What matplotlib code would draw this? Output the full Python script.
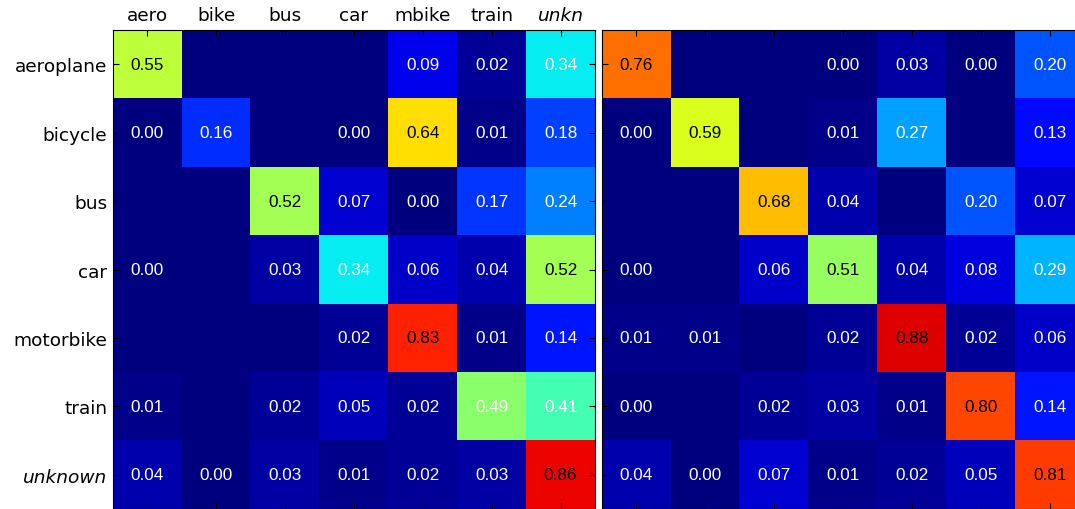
import numpy as np
import matplotlib.pyplot as plt

# Column / row class names
col_labels = ['aero', 'bike', 'bus', 'car', 'mbike', 'train', 'unkn']
row_labels = ['aeroplane', 'bicycle', 'bus', 'car', 'motorbike', 'train', 'unknown']

# Confusion values, None = empty cell (no entry)
left_rows = [
    [0.55, None, None, None, 0.09, 0.02, 0.34],
    [0.00, 0.16, None, 0.00, 0.64, 0.01, 0.18],
    [None, None, 0.52, 0.07, 0.00, 0.17, 0.24],
    [0.00, None, 0.03, 0.34, 0.06, 0.04, 0.52],
    [None, None, None, 0.02, 0.83, 0.01, 0.14],
    [0.01, None, 0.02, 0.05, 0.02, 0.49, 0.41],
    [0.04, 0.00, 0.03, 0.01, 0.02, 0.03, 0.86],
]
right_rows = [
    [0.76, None, None, 0.00, 0.03, 0.00, 0.20],
    [0.00, 0.59, None, 0.01, 0.27, None, 0.13],
    [None, None, 0.68, 0.04, None, 0.20, 0.07],
    [0.00, None, 0.06, 0.51, 0.04, 0.08, 0.29],
    [0.01, 0.01, None, 0.02, 0.88, 0.02, 0.06],
    [0.00, None, 0.02, 0.03, 0.01, 0.80, 0.14],
    [0.04, 0.00, 0.07, 0.01, 0.02, 0.05, 0.81],
]

plt.rcParams['xtick.direction'] = 'in'
plt.rcParams['ytick.direction'] = 'in'

fig = plt.figure(figsize=(10.75, 5.10), dpi=100)
ax_l = fig.add_axes([113 / 1075, 0, 482 / 1075, 479 / 510])
ax_r = fig.add_axes([602 / 1075, 0, 482 / 1075, 479 / 510])


def draw_matrix(ax, rows, vmax):
    vals = np.array([[0.0 if v is None else v for v in r] for r in rows])
    ax.imshow(vals, cmap='jet', vmin=0, vmax=vmax, interpolation='nearest',
              aspect='auto')
    for i, r in enumerate(rows):
        for j, v in enumerate(r):
            if v is None:
                continue
            ax.text(j, i, '%.2f' % v, ha='center', va='center',
                    family='Liberation Sans', fontsize=12.3,
                    color='black' if v >= 0.5 else 'white')
    ax.set_xticks(range(len(col_labels)))
    ax.set_yticks(range(len(row_labels)))
    ax.tick_params(top=True, bottom=True, left=True, right=True,
                   length=4, width=0.8)


draw_matrix(ax_l, left_rows, 0.95)
draw_matrix(ax_r, right_rows, 0.96)

# Labels on the left panel only
ax_l.xaxis.tick_top()
ax_l.tick_params(bottom=True, labelbottom=False, pad=4)
ax_l.set_xticklabels(col_labels, fontsize=13.3)
ax_l.set_yticklabels(row_labels, fontsize=13.3)
ax_l.get_xticklabels()[-1].set_style('italic')
ax_l.get_yticklabels()[-1].set_style('italic')

ax_r.tick_params(labelleft=False, labelbottom=False)
ax_r.xaxis.set_ticks_position('both')

plt.savefig('out.png', dpi=100)
